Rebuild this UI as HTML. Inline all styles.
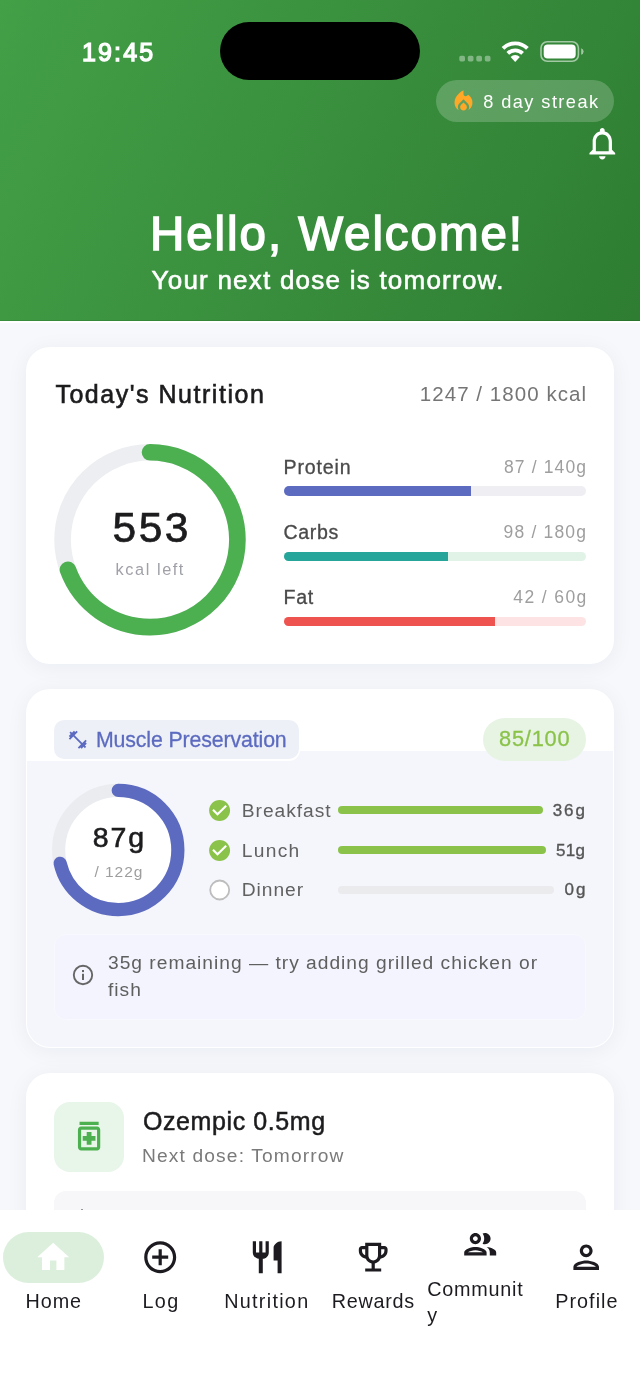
<!DOCTYPE html>
<html lang="en">
<head>
<meta charset="utf-8">
<title>Home</title>
<style>
*{box-sizing:border-box;margin:0;padding:0}
html,body{width:640px;height:1391px;overflow:hidden;background:#f6f8fb;font-family:"Liberation Sans",sans-serif;color:#1c1c1e}
.abs{position:absolute}
.t{position:absolute;white-space:nowrap;line-height:1}
#app{position:relative;width:640px;height:1391px;overflow:hidden;background:#f6f8fb}
#hdr{left:0;top:0;width:640px;height:321px;background:linear-gradient(116.6deg,#43a047,#2e7d32)}
#island{left:220px;top:22px;width:200px;height:58px;border-radius:29px;background:#000}
#chip{left:435.5px;top:79.5px;width:178.5px;height:42px;border-radius:21px;background:rgba(255,255,255,0.2)}
.card{position:absolute;left:25.5px;width:588.5px;background:#fff;border-radius:24px;box-shadow:0 3px 22px rgba(20,45,90,0.055)}
.bar{position:absolute;border-radius:5px;overflow:hidden}
.bar i{position:absolute;left:0;top:0;bottom:0;display:block}
#nav{left:0;top:1210px;width:640px;height:181px;background:#fff}
</style>
</head>
<body>
<div id="app">

<!-- ===== HEADER ===== -->
<div id="hdr" class="abs"></div>
<div class="abs" style="left:0;top:319.6px;width:640px;height:1.4px;background:rgba(0,40,0,0.10)"></div>
<div class="abs" style="left:0;top:321px;width:640px;height:1.6px;background:#fff"></div>
<div id="island" class="abs"></div>

<!-- status icons -->
<svg class="abs" style="left:456px;top:36px" width="132" height="32" viewBox="0 0 132 32">
  <g fill="#fff" fill-opacity="0.38">
    <rect x="3.3" y="19.8" width="5.7" height="5.6" rx="1.6"/>
    <rect x="11.8" y="19.8" width="5.7" height="5.6" rx="1.6"/>
    <rect x="20.3" y="19.8" width="5.7" height="5.6" rx="1.6"/>
    <rect x="28.8" y="19.8" width="5.7" height="5.6" rx="1.6"/>
  </g>
  <g fill="none" stroke="#fff" stroke-width="3.8" stroke-linecap="butt">
    <path d="M47 12.4 A17.2 17.2 0 0 1 71.4 12.4"/>
    <path d="M51.8 17.4 A10.4 10.4 0 0 1 66.6 17.4"/>
  </g>
  <path d="M59.2 26 L54.6 21 A6.3 6.3 0 0 1 63.8 21 Z" fill="#fff"/>
  <g transform="translate(0.2,-1)">
  <rect x="84.8" y="6.8" width="37.4" height="19.4" rx="6.2" fill="none" stroke="#fff" stroke-opacity="0.55" stroke-width="1.6"/>
  <rect x="87.5" y="9.5" width="32" height="14" rx="4" fill="#fff"/>
  <path d="M125 13.2 q2.4 0.8 2.4 3.3 q0 2.5 -2.4 3.3 Z" fill="#fff" fill-opacity="0.55"/>
  </g>
</svg>

<!-- streak chip -->
<div id="chip" class="abs"></div>
<svg class="abs" style="left:449.9px;top:88.3px" width="27" height="27" viewBox="0 0 24 24"><path d="M12 12.900l-2.130 2.090c-.56.56-.87 1.290-.87 2.070C9 18.680 10.350 20 12 20s3-1.320 3-2.940c0-.78-.31-1.520-.87-2.070L12 12.900z M16 6l-.44.55C14.380 8.020 12 7.190 12 5.300V2S4 6 4 13c0 2.920 1.560 5.470 3.890 6.860-.56-.79-.89-1.760-.89-2.800 0-1.320.52-2.560 1.470-3.500L12 10.100l3.530 3.470c.95.930 1.470 2.170 1.470 3.500 0 1.020-.31 1.960-.85 2.750 1.890-1.150 3.290-3.060 3.710-5.300.66-3.550-1.070-6.900-3.860-8.520z" fill="#ffa726"/></svg>

<!-- bell -->
<svg class="abs" style="left:582.8px;top:123.8px" width="38.6" height="38.6" viewBox="0 0 24 24"><path d="M12 22c1.100 0 2-.9 2-2h-4c0 1.100.9 2 2 2zm6-6v-5c0-3.070-1.630-5.640-4.500-6.320V4c0-.83-.67-1.500-1.500-1.500s-1.500.67-1.500 1.500v.68C7.640 5.360 6 7.920 6 11v5l-2 2v1h16v-1l-2-2zm-2 1H8v-6c0-2.480 1.510-4.500 4-4.500s4 2.020 4 4.500v6z" fill="#fff"/></svg>

<!-- ===== CARD 1 ===== -->
<div class="card" style="top:347px;height:316.5px"></div>
<svg class="abs" style="left:50px;top:439px" width="200" height="200" viewBox="0 0 200 200">
  <circle cx="100" cy="100.7" r="87.4" fill="none" stroke="#eceef1" stroke-width="16.6"/>
  <circle cx="100" cy="100.7" r="87.4" fill="none" stroke="#4caf50" stroke-width="16.6" stroke-linecap="round" stroke-dasharray="380.5 600" transform="rotate(-90 100 100.7)"/>
</svg>
<div class="bar" style="left:283.5px;top:486.4px;width:302px;height:9.2px;background:#eeeef3"><i style="width:187.7px;background:#5c6bc0"></i></div>
<div class="bar" style="left:283.5px;top:551.7px;width:302px;height:9.2px;background:#e1f3e7"><i style="width:164.5px;background:#26a69a"></i></div>
<div class="bar" style="left:283.5px;top:617px;width:302px;height:9.2px;background:#fde3e3"><i style="width:211.5px;background:#ef5350"></i></div>

<!-- ===== CARD 2 ===== -->
<div class="card" style="top:689px;height:358.5px"></div>
<div class="abs" style="left:27px;top:750.5px;width:586px;height:296px;background:#f5f6fb;border-radius:0 0 23px 23px"></div>
<div class="abs" style="left:26px;top:712px;width:274.4px;height:48.8px;background:#fff;border-radius:0 0 11px 0"></div>
<div class="abs" style="left:54px;top:719.5px;width:245px;height:39.7px;border-radius:10px;background:#edf0f7"></div>
<svg class="abs" style="left:67.1px;top:728.6px" width="21.6" height="21.6" viewBox="0 0 24 24"><path d="M20.570 14.860L22 13.430 20.570 12 17 15.570 8.430 7 12 3.430 10.570 2 9.140 3.430 7.710 2 5.570 4.140 4.140 2.710 2.710 4.140l1.430 1.430L2 7.710l1.430 1.430L2 10.570 3.430 12 7 8.430 15.570 17 12 20.570 13.430 22l1.430-1.430L16.290 22l2.140-2.140 1.430 1.430 1.430-1.430-1.430-1.430L22 16.290z" fill="#5c6bc0"/></svg>
<div class="abs" style="left:483.3px;top:717.5px;width:102.5px;height:43px;border-radius:21.5px;background:#e7f4e4"></div>
<svg class="abs" style="left:48px;top:780px" width="140" height="140" viewBox="0 0 140 140">
  <circle cx="70.25" cy="70" r="59.6" fill="#fff" stroke="#ebecf0" stroke-width="13.2"/>
  <circle cx="70.25" cy="70" r="59.6" fill="none" stroke="#5c6bc0" stroke-width="13.2" stroke-linecap="round" stroke-dasharray="267.0 600" transform="rotate(-90 70.25 70)"/>
</svg>
<svg class="abs" style="left:207px;top:798px" width="25.2" height="25.2" viewBox="0 0 24 24"><circle cx="12" cy="12" r="8" fill="#fff"/><path d="M12 2C6.480 2 2 6.480 2 12s4.480 10 10 10 10-4.480 10-10S17.520 2 12 2zm-2 15l-5-5 1.410-1.410L10 14.170l7.590-7.590L19 8l-9 9z" fill="#8bc34a"/></svg>
<svg class="abs" style="left:207px;top:838px" width="25.2" height="25.2" viewBox="0 0 24 24"><circle cx="12" cy="12" r="8" fill="#fff"/><path d="M12 2C6.480 2 2 6.480 2 12s4.480 10 10 10 10-4.480 10-10S17.520 2 12 2zm-2 15l-5-5 1.410-1.410L10 14.170l7.590-7.590L19 8l-9 9z" fill="#8bc34a"/></svg>
<svg class="abs" style="left:208px;top:877.5px" width="24" height="24" viewBox="0 0 24 24"><circle cx="11.7" cy="12" r="9.5" fill="#fff" stroke="#bdbdbd" stroke-width="1.8"/></svg>
<div class="abs" style="left:337.5px;top:806px;width:205px;height:8.4px;border-radius:4.2px;background:#8bc34a"></div>
<div class="abs" style="left:337.5px;top:845.9px;width:208.2px;height:8.4px;border-radius:4.2px;background:#8bc34a"></div>
<div class="abs" style="left:337.5px;top:885.8px;width:216px;height:8.2px;border-radius:4.1px;background:#ebebee"></div>
<div class="abs" style="left:53.5px;top:934.4px;width:532.5px;height:85.3px;border-radius:12px;background:#f3f4fd;border:1px solid #f8f8fe"></div>
<svg class="abs" style="left:70.8px;top:963px" width="24" height="24" viewBox="0 0 24 24"><circle cx="12" cy="12" r="9.2" fill="none" stroke="#666" stroke-width="1.9"/><rect x="11" y="10.8" width="2" height="6.2" fill="#666"/><rect x="11" y="7" width="2" height="2.1" fill="#666"/></svg>


<!-- ===== CARD 3 ===== -->
<div class="card" style="top:1072.5px;height:300px"></div>
<div class="abs" style="left:54px;top:1101.5px;width:70px;height:70px;border-radius:16px;background:#e8f5e9"></div>
<svg class="abs" style="left:69.9px;top:1117.4px" width="38.2" height="38.2" viewBox="0 0 24 24"><path d="M10.500 15H8v-3h2.500V9.500h3V12H16v3h-2.500v2.500h-3V15zM19 8v11c0 1.100-.9 2-2 2H7c-1.100 0-2-.9-2-2V8c0-1.100.9-2 2-2h10c1.100 0 2 .9 2 2zm-2 0H7v11h10V8zm1-5H6v2h12V3z" fill="#4caf50"/></svg>
<div class="abs" style="left:54px;top:1191px;width:532px;height:80px;border-radius:12px;background:#f7f7f9"></div>
<div class="abs" style="left:81.3px;top:1208.6px;width:1.6px;height:1.4px;background:#999"></div>


<!-- ===== NAV ===== -->
<div id="nav" class="abs"></div>
<div class="abs" style="left:2.7px;top:1232px;width:101.6px;height:51px;border-radius:25.5px;background:#dcefdc"></div>
<!-- home -->
<svg class="abs" style="left:34.1px;top:1238.3px" width="38.4" height="38.4" viewBox="0 0 24 24"><path d="M10 20 v-6 h4 v6 h5 v-8 h3 L12 3 2 12 h3 v8 z" fill="#fff"/></svg>
<!-- log: add_circle_outline -->
<svg class="abs" style="left:140.8px;top:1237.8px" width="38.4" height="38.4" viewBox="0 0 24 24"><path d="M13 7h-2v4H7v2h4v4h2v-4h4v-2h-4V7zm-1-5C6.48 2 2 6.48 2 12s4.48 10 10 10 10-4.480 10-10S17.520 2 12 2zm0 18c-4.410 0-8-3.590-8-8s3.590-8 8-8 8 3.590 8 8-3.590 8-8 8z" fill="#1d1b20"/></svg>
<!-- nutrition: restaurant -->
<svg class="abs" style="left:247.5px;top:1238.3px" width="38.4" height="38.4" viewBox="0 0 24 24"><path d="M11 9H9V2H7v7H5V2H3v7c0 2.120 1.660 3.840 3.750 3.970V22h2.500v-9.030C11.340 12.840 13 11.120 13 9V2h-2v7zm5-3v8h2.500v8H21V2c-2.760 0-5 2.240-5 4z" fill="#1d1b20"/></svg>
<!-- rewards: emoji_events outlined -->
<svg class="abs" style="left:354.4px;top:1238.3px" width="38.4" height="38.4" viewBox="0 0 24 24"><path d="M19 5h-2V3H7v2H5c-1.100 0-2 .9-2 2v1c0 2.550 1.920 4.630 4.390 4.940.63 1.500 1.980 2.630 3.610 2.960V19H7v2h10v-2h-4v-3.100c1.630-.33 2.980-1.460 3.610-2.960C19.080 12.630 21 10.550 21 8V7c0-1.100-.9-2-2-2zM5 8V7h2v3.820C5.840 10.400 5 9.300 5 8zm7 6c-1.650 0-3-1.350-3-3V5h6v6c0 1.650-1.350 3-3 3zm7-6c0 1.300-.84 2.400-2 2.820V7h2v1z" fill="#1d1b20"/></svg>
<!-- community: people_outline -->
<svg class="abs" style="left:460.9px;top:1225.3px" width="38.4" height="38.4" viewBox="0 0 24 24"><path d="M9 13.750c-2.340 0-7 1.170-7 3.500V19h14v-1.750c0-2.330-4.660-3.500-7-3.500zM4.340 17c.84-.58 2.870-1.250 4.660-1.250s3.820.67 4.660 1.250H4.340zM9 12c1.930 0 3.500-1.570 3.500-3.500S10.930 5 9 5 5.500 6.570 5.500 8.500 7.070 12 9 12zm0-5c.83 0 1.500.67 1.500 1.500S9.830 10 9 10s-1.500-.67-1.500-1.500S8.170 7 9 7zm7.040 6.810c1.160.84 1.960 1.960 1.960 3.440V19h4v-1.750c0-2.020-3.500-3.170-5.960-3.440zM15 12c1.930 0 3.500-1.570 3.500-3.500S16.930 5 15 5c-.54 0-1.040.13-1.500.35.630.89 1 1.980 1 3.150s-.37 2.260-1 3.150c.46.220.96.350 1.500.350z" fill="#1d1b20"/></svg>
<!-- profile: person_outline -->
<svg class="abs" style="left:567.4px;top:1238.4px" width="38.4" height="38.4" viewBox="0 0 24 24"><path d="M12 6c1.100 0 2 .9 2 2s-.9 2-2 2-2-.9-2-2 .9-2 2-2m0 10c2.700 0 5.800 1.290 6 2H6c.23-.72 3.310-2 6-2m0-12C9.790 4 8 5.790 8 8s1.790 4 4 4 4-1.790 4-4-1.790-4-4-4zm0 10c-2.670 0-8 1.340-8 4v2h16v-2c0-2.660-5.330-4-8-4z" fill="#1d1b20"/></svg>


<!-- ===== TEXT ===== -->
<div class="t" style="left:82.00px;top:40.14px;font-size:25px;color:#fff;letter-spacing:2.125px;-webkit-text-stroke:1.25px #fff;">19:45</div>
<div class="t" style="left:483.20px;top:92.59px;font-size:18.2px;color:#fff;letter-spacing:1.436px;">8 day streak</div>
<div class="t" style="left:150.00px;top:209.89px;font-size:47.5px;color:#fff;letter-spacing:1.929px;-webkit-text-stroke:1.5px #fff;">Hello, Welcome!</div>
<div class="t" style="left:151.50px;top:266.59px;font-size:26px;color:#fff;letter-spacing:1.231px;-webkit-text-stroke:0.6px #fff;">Your next dose is tomorrow.</div>
<div class="t" style="left:55.40px;top:381.54px;font-size:25px;color:#1c1c1e;letter-spacing:1.525px;-webkit-text-stroke:0.6px #1c1c1e;">Today's Nutrition</div>
<div class="t" style="left:419.80px;top:383.95px;font-size:20.5px;color:#757575;letter-spacing:1.053px;">1247 / 1800 kcal</div>
<div class="t" style="left:112.40px;top:507.02px;font-size:42.5px;color:#1c1c1e;letter-spacing:2.600px;-webkit-text-stroke:0.7px #1c1c1e;">553</div>
<div class="t" style="left:115.60px;top:561.10px;font-size:16.3px;color:#a0a0a8;letter-spacing:1.575px;">kcal left</div>
<div class="t" style="left:283.50px;top:457.91px;font-size:19.6px;color:#4a4a4a;letter-spacing:0.833px;-webkit-text-stroke:0.3px #4a4a4a;">Protein</div>
<div class="t" style="left:283.50px;top:522.91px;font-size:19.6px;color:#4a4a4a;letter-spacing:0.625px;-webkit-text-stroke:0.3px #4a4a4a;">Carbs</div>
<div class="t" style="left:283.50px;top:587.91px;font-size:19.6px;color:#4a4a4a;letter-spacing:0.750px;-webkit-text-stroke:0.3px #4a4a4a;">Fat</div>
<div class="t" style="left:504.00px;top:459.19px;font-size:17.5px;color:#9e9e9e;letter-spacing:1.125px;">87 / 140g</div>
<div class="t" style="left:503.50px;top:524.19px;font-size:17.5px;color:#9e9e9e;letter-spacing:1.188px;">98 / 180g</div>
<div class="t" style="left:513.25px;top:589.19px;font-size:17.5px;color:#9e9e9e;letter-spacing:1.393px;">42 / 60g</div>
<div class="t" style="left:95.90px;top:730.37px;font-size:21.3px;color:#5c6bc0;letter-spacing:-0.117px;-webkit-text-stroke:0.3px #5c6bc0;">Muscle Preservation</div>
<div class="t" style="left:499.00px;top:727.95px;font-size:21.8px;color:#8bc34a;letter-spacing:0.800px;-webkit-text-stroke:0.3px #8bc34a;">85/100</div>
<div class="t" style="left:92.75px;top:822.87px;font-size:28.5px;color:#1c1c1e;letter-spacing:1.875px;-webkit-text-stroke:0.6px #1c1c1e;">87g</div>
<div class="t" style="left:94.50px;top:864.38px;font-size:15.5px;color:#9e9e9e;letter-spacing:0.950px;">/ 122g</div>
<div class="t" style="left:241.80px;top:800.75px;font-size:19.2px;color:#616161;letter-spacing:0.962px;">Breakfast</div>
<div class="t" style="left:241.80px;top:840.75px;font-size:19.2px;color:#616161;letter-spacing:1.300px;">Lunch</div>
<div class="t" style="left:241.80px;top:880.25px;font-size:19.2px;color:#616161;letter-spacing:0.940px;">Dinner</div>
<div class="t" style="left:552.70px;top:801.81px;font-size:17px;color:#555;letter-spacing:1.950px;-webkit-text-stroke:0.35px #555;">36g</div>
<div class="t" style="left:556.10px;top:841.81px;font-size:17px;color:#555;letter-spacing:0.250px;-webkit-text-stroke:0.35px #555;">51g</div>
<div class="t" style="left:564.60px;top:881.41px;font-size:17px;color:#555;letter-spacing:2.000px;-webkit-text-stroke:0.35px #555;">0g</div>
<div class="t" style="left:108.00px;top:949.20px;font-size:19.2px;color:#5f5f5f;letter-spacing:1.000px;line-height:27.1px;width:462px;white-space:normal;">35g remaining — try adding grilled chicken or fish</div>
<div class="t" style="left:143.00px;top:1108.84px;font-size:25px;color:#1c1c1e;letter-spacing:0.583px;-webkit-text-stroke:0.5px #1c1c1e;">Ozempic 0.5mg</div>
<div class="t" style="left:142.00px;top:1146.25px;font-size:19.2px;color:#7a7a7a;letter-spacing:1.139px;">Next dose: Tomorrow</div>
<div class="t" style="left:25.50px;top:1292.44px;font-size:19.8px;color:#1d1b20;letter-spacing:0.933px;">Home</div>
<div class="t" style="left:142.40px;top:1292.44px;font-size:19.8px;color:#1d1b20;letter-spacing:1.400px;">Log</div>
<div class="t" style="left:224.20px;top:1292.44px;font-size:19.8px;color:#1d1b20;letter-spacing:1.288px;">Nutrition</div>
<div class="t" style="left:331.70px;top:1292.44px;font-size:19.8px;color:#1d1b20;letter-spacing:0.717px;">Rewards</div>
<div class="t" style="left:427.20px;top:1276.44px;font-size:19.8px;color:#1d1b20;letter-spacing:0.757px;line-height:26.0px;width:104px;white-space:normal;word-break:break-all;">Community</div>
<div class="t" style="left:555.20px;top:1292.44px;font-size:19.8px;color:#1d1b20;letter-spacing:1.050px;">Profile</div>

</div>
</body>
</html>
